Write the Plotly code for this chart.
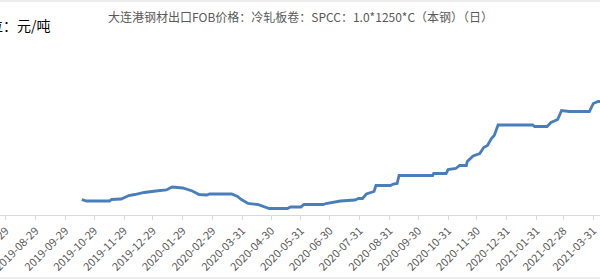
import plotly.graph_objects as go

title_text = "大连港钢材出口FOB价格：冷轧板卷：SPCC：1.0*1250*C（本钢）（日）"
unit_text = "单位：元/吨"

dates = [
    "2019-10-16", "2019-10-21", "2019-11-14", "2019-11-16", "2019-11-26", "2019-11-30",
    "2019-12-04", "2019-12-10", "2019-12-20", "2020-01-01", "2020-01-12", "2020-01-18",
    "2020-01-29", "2020-02-08", "2020-02-15", "2020-02-23", "2020-02-26", "2020-03-20",
    "2020-03-26", "2020-03-30", "2020-04-06", "2020-04-16", "2020-04-21", "2020-04-28",
    "2020-05-17", "2020-05-20", "2020-05-31", "2020-06-03", "2020-06-23", "2020-06-26",
    "2020-07-11", "2020-07-26", "2020-07-30", "2020-08-03", "2020-08-07", "2020-08-12",
    "2020-08-15", "2020-08-17", "2020-09-01", "2020-09-04", "2020-09-08", "2020-09-10",
    "2020-10-15", "2020-10-16", "2020-10-29", "2020-10-31", "2020-11-08", "2020-11-12",
    "2020-11-19", "2020-11-20", "2020-11-26", "2020-12-03", "2020-12-07", "2020-12-11",
    "2020-12-15", "2020-12-18", "2020-12-22", "2021-01-27", "2021-01-29", "2021-02-11",
    "2021-02-15", "2021-02-22", "2021-02-26", "2021-03-06", "2021-03-10", "2021-03-27",
    "2021-03-31", "2021-04-05", "2021-04-10",
]
prices = [
    4210, 4180, 4180, 4210, 4220, 4250,
    4290, 4310, 4350, 4380, 4400, 4460,
    4440, 4380, 4310, 4300, 4320, 4320,
    4270, 4210, 4130, 4110, 4070, 4030,
    4030, 4060, 4060, 4110, 4110, 4130,
    4180, 4200, 4230, 4230, 4320, 4350,
    4370, 4490, 4490, 4520, 4530, 4690,
    4690, 4730, 4730, 4810, 4830, 4890,
    4890, 4970, 5080, 5130, 5250, 5290,
    5430, 5490, 5700, 5700, 5670, 5670,
    5750, 5810, 5990, 5970, 5970, 5970,
    6130, 6170, 6170,
]

tick_dates = [
    "2019-07-29", "2019-08-29", "2019-09-29", "2019-10-29", "2019-11-29", "2019-12-29",
    "2020-01-29", "2020-02-29", "2020-03-31", "2020-04-30", "2020-05-31", "2020-06-30",
    "2020-07-31", "2020-08-31", "2020-09-30", "2020-10-31", "2020-11-30", "2020-12-31",
    "2021-01-31", "2021-02-28", "2021-03-31", "2021-04-30",
]

W, H = 600, 280
M_T, M_B = 40, 65
plot_h = H - M_T - M_B


def py(px_from_top):
    """pixel row from the top of the picture -> paper y coordinate"""
    return (H - M_B - px_from_top) / plot_h


fig = go.Figure()
fig.add_trace(go.Scatter(
    x=dates, y=prices, mode="lines",
    line=dict(color="#4a7ebb", width=2.8),
    hoverinfo="skip", showlegend=False,
))

fig.update_layout(
    width=W, height=H,
    margin=dict(l=0, r=0, t=M_T, b=M_B, autoexpand=False),
    paper_bgcolor="white", plot_bgcolor="white",
    font=dict(family="Noto Sans CJK SC, sans-serif", color="#595959"),
    xaxis=dict(
        type="date",
        range=["2019-07-23", "2021-04-07"],
        tickvals=tick_dates, ticktext=tick_dates,
        tickangle=-45, tickfont=dict(size=11, color="#595959"),
        ticklabeloverflow="allow", automargin=False,
        showgrid=False, showline=True, linecolor="#d9d9d9", linewidth=1,
        ticks="outside", ticklen=4, tickcolor="#d9d9d9",
        zeroline=False, fixedrange=True,
    ),
    yaxis=dict(range=[3900, 7400], visible=False, fixedrange=True, automargin=False),
    annotations=[
        dict(text=title_text, x=0.5, y=py(17), xref="paper", yref="paper",
             showarrow=False, font=dict(size=12, color="#595959"),
             xanchor="center", yanchor="middle"),
        dict(text=unit_text, x=53 / W, y=py(25), xref="paper", yref="paper",
             showarrow=False, font=dict(size=14, color="#000000"),
             xanchor="right", yanchor="middle"),
    ],
    shapes=[
        dict(type="line", xref="paper", yref="paper", x0=-0.01, x1=1.01,
             y0=py(1), y1=py(1), line=dict(color="#d9d9d9", width=1)),
        dict(type="line", xref="paper", yref="paper", x0=-0.01, x1=1.01,
             y0=py(278), y1=py(278), line=dict(color="#d9d9d9", width=1)),
    ],
)

fig.write_html("out.html")
